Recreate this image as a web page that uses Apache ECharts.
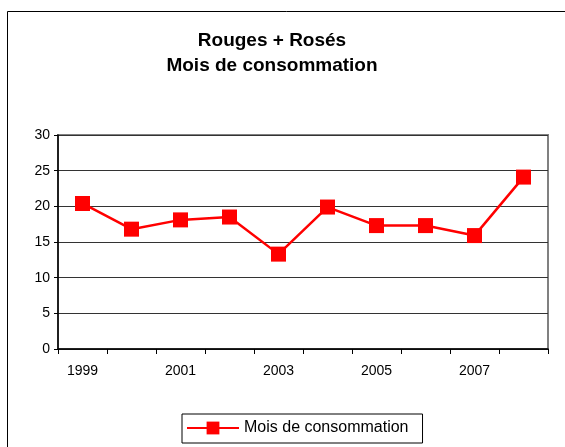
<!DOCTYPE html>
<html>
<head>
<meta charset="utf-8">
<script src="https://cdn.jsdelivr.net/npm/echarts@6/dist/echarts.min.js"></script>
<style>
  html, body { margin: 0; padding: 0; background: #fff; }
  #main { width: 565px; height: 447px; }
</style>
</head>
<body>
<div id="main"></div>
<script>
// données
var years = ['1999', '2000', '2001', '2002', '2003', '2004', '2005', '2006', '2007', '2008'];
var moisConso = [20.4, 16.8, 18.1, 18.5, 13.3, 19.9, 17.3, 17.3, 15.9, 24.1];
var yTicks = { min: 0, max: 30, interval: 5 };

var myChart = echarts.init(document.getElementById('main'));
var option = {
    backgroundColor: '#fff',
    animation: false,
    title: {
        text: 'Rouges + Rosés\nMois de consommation',
        left: 267,
        textAlign: 'center',
        top: 23,
        textStyle: {
            fontFamily: 'Liberation Sans',
            fontSize: 19,
            fontWeight: 'bold',
            color: '#000',
            lineHeight: 25
        }
    },
    graphic: [{
        type: 'rect',
        shape: { x: 7.5, y: 11.5, width: 600, height: 500 },
        style: { fill: 'none', stroke: '#000', lineWidth: 1 },
        silent: true
    }],
    legend: {
        data: ['Mois de consommation'],
        left: 182,
        top: 414,
        padding: [6, 14, 7, 4],
        itemWidth: 52,
        itemHeight: 16,
        itemGap: 4,
        borderColor: '#000',
        borderWidth: 1,
        textStyle: {
            fontFamily: 'Liberation Sans',
            fontSize: 16,
            color: '#000'
        }
    },
    grid: {
        left: 58,
        top: 135,
        right: 17,
        bottom: 98,
        show: true,
        borderColor: '#808080',
        borderWidth: 2,
        backgroundColor: '#fff'
    },
    xAxis: {
        type: 'category',
        data: years,
        boundaryGap: true,
        axisLine: { lineStyle: { color: '#000', width: 1.5 } },
        axisTick: { show: true, interval: 0, length: 5, lineStyle: { color: '#000' } },
        axisLabel: {
            interval: 1,
            margin: 15,
            fontFamily: 'Liberation Sans',
            fontSize: 14,
            color: '#000'
        }
    },
    yAxis: {
        type: 'value',
        min: yTicks.min,
        max: yTicks.max,
        interval: yTicks.interval,
        axisLine: { show: true, lineStyle: { color: '#000', width: 1.5 } },
        axisTick: { show: true, length: 4, lineStyle: { color: '#000' } },
        splitLine: { show: true, lineStyle: { color: '#333', width: 1 } },
        axisLabel: {
            margin: 8,
            fontFamily: 'Liberation Sans',
            fontSize: 14,
            color: '#000'
        }
    },
    series: [{
        name: 'Mois de consommation',
        type: 'line',
        data: moisConso,
        symbol: 'rect',
        symbolSize: 15,
        itemStyle: { color: '#ff0000' },
        lineStyle: { color: '#ff0000', width: 2.5 }
    }]
};
myChart.setOption(option);
</script>
</body>
</html>
